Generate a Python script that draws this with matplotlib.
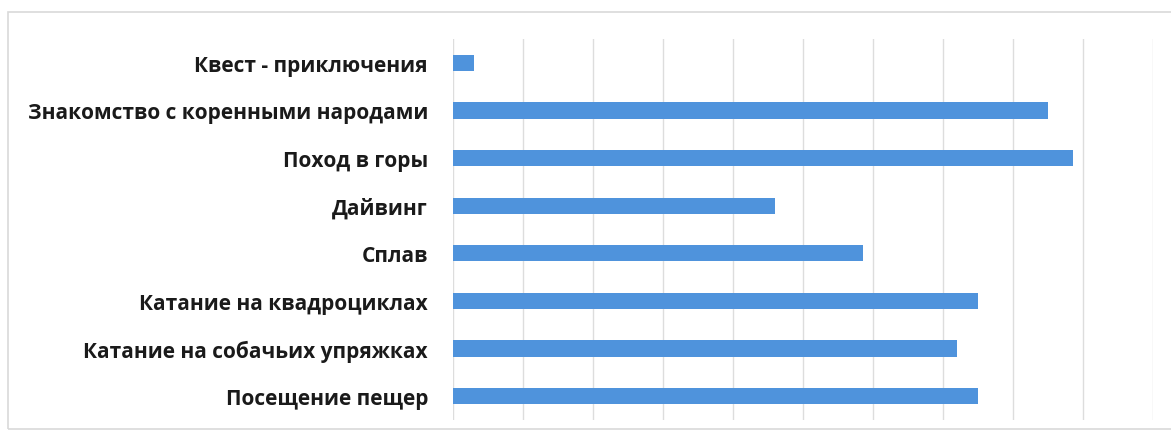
import matplotlib
matplotlib.use("Agg")
import matplotlib.pyplot as plt
from matplotlib.patches import Rectangle

# categories from top to bottom as in the picture
categories = [
    "Квест - приключения",
    "Знакомство с коренными народами",
    "Поход в горы",
    "Дайвинг",
    "Сплав",
    "Катание на квадроциклах",
    "Катание на собачьих упряжках",
    "Посещение пещер",
]
values = [0.3, 8.5, 8.85, 4.6, 5.85, 7.5, 7.2, 7.5]
x_max = 10
x_ticks = list(range(0, 11))

bar_color = "#4F93DC"
grid_color = "#DDDDDD"

plt.rcParams["font.family"] = ["Open Sans", "DejaVu Sans"]

fig = plt.figure(figsize=(11.71, 4.39), dpi=100)
ax = fig.add_axes([453 / 1171, 1 - 421 / 439, 700 / 1171, 381 / 439])

pos = list(range(len(categories)))
ax.barh(pos, values, height=0.34, color=bar_color, zorder=3)

ax.set_ylim(len(categories) - 0.5, -0.5)
ax.set_xlim(0, x_max)
ax.set_xticks(x_ticks)
ax.set_xticklabels([])
ax.tick_params(axis="x", length=0)
ax.grid(axis="x", color=grid_color, linewidth=1, zorder=0)

ax.set_yticks(pos)
ax.set_yticklabels(categories, fontsize=15, fontweight="bold", color="#1a1a1a")
ax.tick_params(axis="y", length=0, pad=18)

for s in ax.spines.values():
    s.set_visible(False)

# light frame around the chart area
fig.patches.append(Rectangle((8 / 1171, 1 - 430 / 439), 1.2, 417 / 439,
                             transform=fig.transFigure, fill=False,
                             edgecolor="#D9D9D9", linewidth=1.2))

fig.savefig("out.png", dpi=100)
